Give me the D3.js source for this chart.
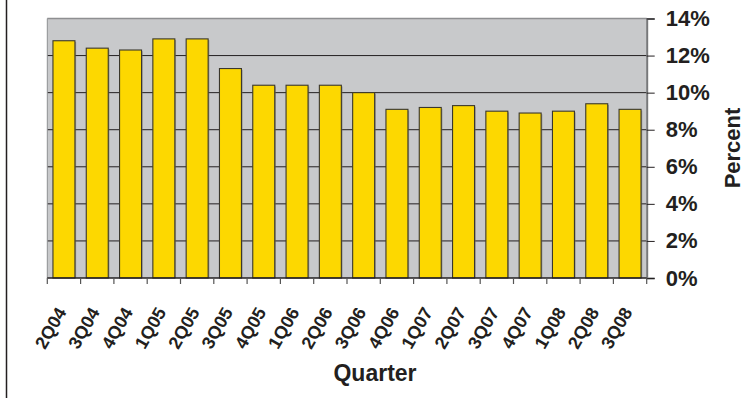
<!DOCTYPE html>
<html>
<head>
<meta charset="utf-8">
<script src="https://cdn.jsdelivr.net/npm/d3@7"></script>
<style>
  html, body { margin: 0; padding: 0; background: #fff; }
  svg { display: block; }
  text { font-family: "Liberation Sans", Arial, sans-serif; font-weight: bold; fill: #231f20; }
</style>
</head>
<body>
<svg id="chart" width="750" height="398"></svg>
<script>
// Quarterly percentages
const quarters = ["2Q04","3Q04","4Q04","1Q05","2Q05","3Q05","4Q05","1Q06","2Q06","3Q06",
                  "4Q06","1Q07","2Q07","3Q07","4Q07","1Q08","2Q08","3Q08"];
const percents = [12.8, 12.4, 12.3, 12.9, 12.9, 11.3, 10.4, 10.4, 10.4, 10.0,
                  9.1, 9.2, 9.3, 9.0, 8.9, 9.0, 9.4, 9.1];
const yTicks = [0, 2, 4, 6, 8, 10, 12, 14];

const svg = d3.select("#chart");
const plotLeft = 47.3, plotRight = 646.7, plotTop = 18.5, plotBottom = 278;

const x = d3.scaleBand().domain(quarters).range([plotLeft, plotRight]).paddingInner(0.34).paddingOuter(0.17);
const y = d3.scaleLinear().domain([0, 14]).range([plotBottom, plotTop]);

// frame line at the left edge
svg.append("line").attr("x1", 6.5).attr("x2", 6.5).attr("y1", 0).attr("y2", 398)
  .attr("stroke", "#231f20").attr("stroke-width", 1.5);

// plot background
svg.append("rect").attr("x", plotLeft).attr("y", plotTop)
  .attr("width", plotRight - plotLeft).attr("height", plotBottom - plotTop)
  .attr("fill", "#c8c9cb");

// horizontal gridlines
svg.append("g").selectAll("line").data(yTicks.filter(d => d > 0 && d < 14)).join("line")
  .attr("x1", plotLeft).attr("x2", plotRight).attr("y1", d => y(d)).attr("y2", d => y(d))
  .attr("stroke", "#231f20").attr("stroke-width", 1);
// top edge of plot area
svg.append("line").attr("x1", plotLeft).attr("x2", plotRight).attr("y1", y(14)).attr("y2", y(14))
  .attr("stroke", "#8e8f91").attr("stroke-width", 1.5);
// left edge of plot area
svg.append("line").attr("x1", plotLeft).attr("x2", plotLeft).attr("y1", plotTop).attr("y2", plotBottom)
  .attr("stroke", "#8e8f91").attr("stroke-width", 1);

// bars with a soft shadow
const bars = svg.append("g");
bars.selectAll("rect.shadow").data(percents).join("rect").attr("class", "shadow")
  .attr("x", (d, i) => x(quarters[i]) + 1.2).attr("y", d => y(d) + 1.2)
  .attr("width", x.bandwidth()).attr("height", d => plotBottom - y(d) - 1.2)
  .attr("fill", "#6f6c60").attr("opacity", 0.55);
bars.selectAll("rect.bar").data(percents).join("rect").attr("class", "bar")
  .attr("x", (d, i) => x(quarters[i])).attr("y", d => y(d))
  .attr("width", x.bandwidth()).attr("height", d => plotBottom - y(d))
  .attr("fill", "#fdd800").attr("stroke", "#3a372c").attr("stroke-width", 1.1);

// right axis
const yAxis = d3.axisRight(y).tickValues(yTicks).tickFormat(d => d + "%").tickSize(8).tickPadding(11);
const gy = svg.append("g").attr("transform", `translate(${plotRight},0)`).call(yAxis);
gy.select(".domain").attr("stroke", "#77787a").attr("stroke-width", 2);
gy.selectAll(".tick line").attr("stroke", "#231f20").attr("stroke-width", 1);
gy.selectAll(".tick text").attr("font-size", 22).attr("fill", "#231f20")
  .attr("font-family", "Liberation Sans, Arial, sans-serif").attr("font-weight", "bold");

// bottom axis: ticks at category boundaries
const gx = svg.append("g");
gx.append("line").attr("x1", plotLeft).attr("x2", plotRight).attr("y1", plotBottom).attr("y2", plotBottom)
  .attr("stroke", "#231f20").attr("stroke-width", 1.5);
const bounds = quarters.map(q => x(q) - x.step() * x.paddingInner() / 2).concat([plotRight]);
gx.selectAll("line.tk").data(bounds).join("line").attr("class", "tk")
  .attr("x1", d => d).attr("x2", d => d).attr("y1", plotBottom).attr("y2", plotBottom + 6)
  .attr("stroke", "#555").attr("stroke-width", 1.2);
gx.selectAll("text").data(quarters).join("text")
  .attr("transform", d => `translate(${x(d) + x.bandwidth() / 2 + 3},${plotBottom + 34}) rotate(-60)`)
  .attr("text-anchor", "end")
  .attr("font-size", 18).text(d => d);

// axis titles
svg.append("text").attr("x", 375).attr("y", 381).attr("text-anchor", "middle")
  .attr("font-size", 23).text("Quarter");
svg.append("text").attr("transform", "translate(740,148) rotate(-90)").attr("text-anchor", "middle")
  .attr("font-size", 22).text("Percent");
</script>
</body>
</html>
